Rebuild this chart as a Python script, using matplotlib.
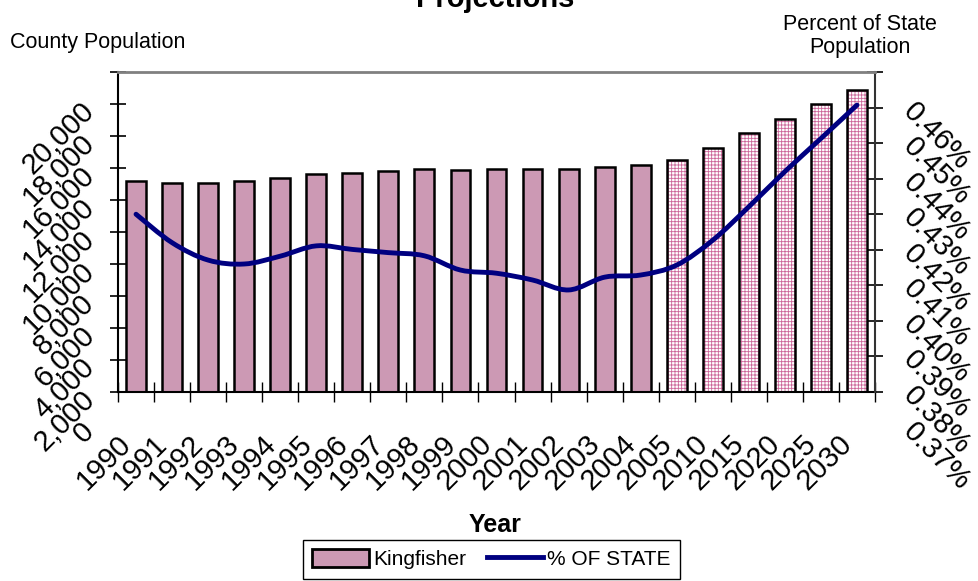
import numpy as np
import matplotlib
matplotlib.use('Agg')
import matplotlib.pyplot as plt
from matplotlib.path import Path
from matplotlib.patches import PathPatch, Patch
from matplotlib.lines import Line2D

# data
years = ['1990', '1991', '1992', '1993', '1994', '1995', '1996', '1997', '1998',
         '1999', '2000', '2001', '2002', '2003', '2004', '2005', '2010', '2015',
         '2020', '2025', '2030']
population = [13190, 13080, 13080, 13190, 13395, 13600, 13690, 13810, 13920,
              13900, 13930, 13920, 13920, 14080, 14190, 14500, 15270, 16210,
              17060, 18000, 18875]
pct_of_state = [0.4200, 0.4120, 0.4071, 0.4060, 0.4082, 0.4111, 0.4101, 0.4092,
                0.4083, 0.4043, 0.4034, 0.4015, 0.3987, 0.4023, 0.4029, 0.4057,
                0.4127, 0.4221, 0.4320, 0.4413, 0.4507]
n_estimates = 15   # 1990-2004 solid, 2005 on are projections
pop_ticks = [0, 2000, 4000, 6000, 8000, 10000, 12000, 14000, 16000, 18000, 20000]
pct_ticks = [0.37, 0.38, 0.39, 0.40, 0.41, 0.42, 0.43, 0.44, 0.45, 0.46]

MAUVE = '#CC99B4'
HATCH = '#CC6699'
NAVY = '#000080'

plt.rcParams['font.family'] = ['Liberation Sans', 'DejaVu Sans']
plt.rcParams['hatch.linewidth'] = 0.6

W, H = 979, 581
fig = plt.figure(figsize=(W / 100, H / 100), dpi=100)
ax = fig.add_axes([118 / W, 1 - 392 / H, (875 - 118) / W, 320 / H])
ax2 = ax.twinx()

x = np.arange(len(years))
bw = 0.55
ax.bar(x[:n_estimates], population[:n_estimates], width=bw, color=MAUVE,
       edgecolor='black', linewidth=1.8)
ax.bar(x[n_estimates:], population[n_estimates:], width=bw, color='white',
       edgecolor=HATCH, hatch='+++++', linewidth=0)
ax.bar(x[n_estimates:], population[n_estimates:], width=bw, fill=False,
       edgecolor='black', linewidth=1.8)


def smooth_path(xs, ys):
    # excel-style smoothed line: cubic bezier through every point
    pts = np.column_stack([xs, ys]).astype(float)
    verts = [pts[0]]
    codes = [Path.MOVETO]
    last = len(pts) - 1
    for i in range(last):
        p0, p1 = pts[max(i - 1, 0)], pts[i]
        p2, p3 = pts[i + 1], pts[min(i + 2, last)]
        verts += [p1 + (p2 - p0) / 6, p2 - (p3 - p1) / 6, p2]
        codes += [Path.CURVE4] * 3
    return Path(verts, codes)


ax2.add_patch(PathPatch(smooth_path(x, pct_of_state), fill=False,
                        edgecolor=NAVY, linewidth=3.5, capstyle='round',
                        joinstyle='round'))

ax.set_xlim(-0.5, len(years) - 0.5)
ax.set_ylim(pop_ticks[0], pop_ticks[-1])
ax2.set_ylim(pct_ticks[0], pct_ticks[-1])

ax.set_xticks(np.arange(len(years) + 1) - 0.5)
ax.set_yticks(pop_ticks)
ax2.set_yticks(pct_ticks)
ax.tick_params(axis='x', direction='inout', length=14, width=1,
               labelbottom=False)
ax.tick_params(axis='y', direction='inout', length=12, width=1.2,
               labelleft=False)
ax2.tick_params(axis='y', direction='inout', length=11, width=1.2,
                labelright=False)

for s in ['top', 'right']:
    ax.spines[s].set_visible(False)
for s in ['left', 'bottom']:
    ax2.spines[s].set_visible(False)
ax2.spines['top'].set_color('#808080')
ax2.spines['top'].set_linewidth(2)
ax.spines['left'].set_linewidth(1.5)
ax.spines['bottom'].set_linewidth(1.5)
ax2.spines['right'].set_linewidth(1.5)
ax2.spines['right'].set_color('#333333')

# rotated tick labels, placed like the excel original
px = 0.72
fs = 21
for v in pop_ticks:
    ax.annotate(f'{v:,}', xy=(0, v), xycoords=ax.get_yaxis_transform(),
                xytext=(-18 * px, -25 * px), textcoords='offset points',
                rotation=45, ha='right', va='top', fontsize=fs)
for i, yr in enumerate(years):
    ax.annotate(yr, xy=(i, 0), xycoords=ax.get_xaxis_transform(),
                xytext=(1 * px, -38 * px), textcoords='offset points',
                rotation=45, ha='right', va='top', fontsize=fs)
for v in pct_ticks:
    ax2.annotate(f'{v:.2f}%', xy=(1, v), xycoords=ax2.get_yaxis_transform(),
                 xytext=(23 * px, -25 * px), textcoords='offset points',
                 rotation=-45, ha='left', va='top', fontsize=fs)

fig.text(495 / W, 1 - 7 / H, 'Projections', ha='center', va='baseline',
         fontsize=21, fontweight='bold')
fig.text(10 / W, 1 - 48 / H, 'County Population', ha='left', va='baseline',
         fontsize=15.5)
fig.text(860 / W, 1 - 30 / H, 'Percent of State', ha='center', va='baseline',
         fontsize=15.5)
fig.text(860 / W, 1 - 53 / H, 'Population', ha='center', va='baseline',
         fontsize=15.5)
fig.text(495 / W, 1 - 532 / H, 'Year', ha='center', va='baseline',
         fontsize=18, fontweight='bold')

handles = [Patch(facecolor=MAUVE, edgecolor='black', linewidth=2),
           Line2D([], [], color=NAVY, linewidth=3.5)]
leg = ax.legend(handles, ['Kingfisher', '% OF STATE'], loc='upper left',
                bbox_to_anchor=(303 / W, 1 - 540 / H),
                bbox_transform=fig.transFigure, ncol=2, fontsize=15,
                frameon=True, fancybox=False, edgecolor='black',
                framealpha=1, borderaxespad=0, borderpad=0.45,
                handlelength=2.7, handleheight=0.9, handletextpad=0.2,
                columnspacing=1.0)
leg.get_frame().set_linewidth(1)

fig.savefig('out.png', dpi=100)
